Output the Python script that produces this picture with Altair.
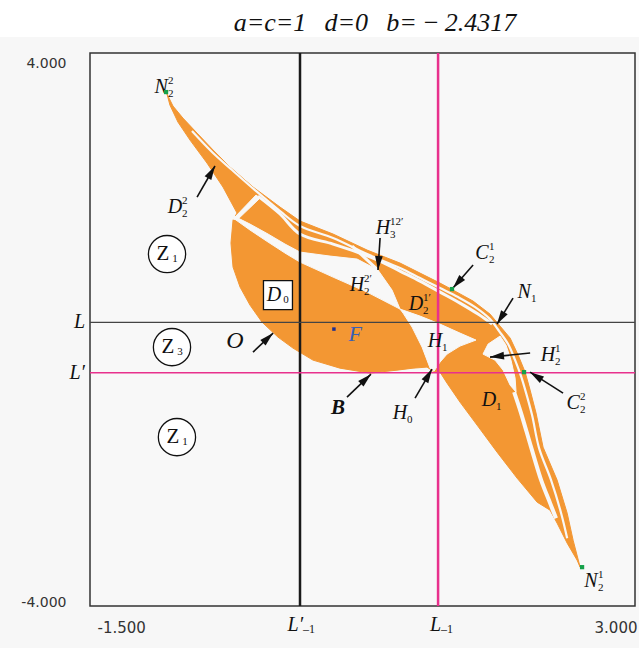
import math
import pandas as pd
import altair as alt

# ---------------- plot window ----------------
X_DOMAIN = [-1.5, 3.0]
Y_DOMAIN = [-4.0, 4.0]
X_TICKS = [-1.5, 3.0]
Y_TICKS = [-4.0, 4.0]
W, H = 545, 553
TITLE = "a=c=1\u2002\u2009d=0\u2002\u2009b=\u2009\u2212\u20092.4317"

# critical lines
L_LEVEL = 0.103      # L   (horizontal, black)
LP_LEVEL = -0.627    # L'  (horizontal, pink)
LM1_POS = 1.374      # L_-1  (vertical, pink)
LPM1_POS = 0.234     # L'_-1 (vertical, black)

ORANGE = "#f39733"
BG = "#f8f8f8"
PINK = "#e8318d"

# ---------------- basin of attraction ----------------
# outer envelope of the basin, from the N2^2 tip round to the N2^1 tip and back
basin_outline = [
    (-0.864, 3.406), (-0.815, 3.233), (-0.733, 3.059), (-0.616, 2.841), (-0.484, 2.597),
    (-0.344, 2.350), (-0.154, 2.061), (0.069, 1.771), (0.234, 1.569), (0.507, 1.381),
    (0.788, 1.149), (1.060, 0.961), (1.225, 0.816), (1.390, 0.671), (1.514, 0.555),
    (1.663, 0.411), (1.803, 0.223), (1.886, 0.049), (1.969, -0.124), (2.035, -0.370),
    (2.093, -0.617), (2.134, -0.877), (2.183, -1.209), (2.241, -1.702), (2.357, -2.179),
    (2.440, -2.657), (2.489, -3.048), (2.547, -3.438),
    (2.522, -3.337), (2.440, -3.091), (2.357, -2.802), (2.299, -2.614), (2.192, -2.498),
    (2.026, -2.150), (1.861, -1.774), (1.696, -1.383), (1.555, -1.050), (1.448, -0.776),
    (1.390, -0.617), (1.332, -0.602), (1.283, -0.544), (1.167, -0.559), (1.035, -0.588),
    (0.812, -0.631), (0.564, -0.559), (0.341, -0.443), (0.176, -0.269), (0.052, -0.110),
    (-0.080, 0.107), (-0.179, 0.353), (-0.261, 0.614), (-0.319, 0.903), (-0.336, 1.250),
    (-0.319, 1.583), (-0.286, 1.685), (-0.402, 2.061), (-0.534, 2.408), (-0.674, 2.740),
    (-0.774, 3.001), (-0.840, 3.247),
]

# holes cut into the basin (regions of the other basin)
hole_cross = [(-0.319, 1.598), (-0.286, 1.583), (-0.096, 1.902), (-0.129, 1.945)]
hole_h22 = [
    (-0.311, 1.641), (-0.179, 1.525), (-0.030, 1.381), (0.110, 1.236), (0.234, 1.120),
    (0.482, 1.062), (0.705, 1.019), (0.878, 0.860), (0.994, 0.570), (1.060, 0.295),
    (0.788, 0.541), (0.507, 0.758), (0.234, 0.975), (0.110, 1.106), (-0.030, 1.265),
    (-0.179, 1.439), (-0.294, 1.583),
]
hole_h1 = [
    (1.060, 0.295), (1.225, 0.194), (1.390, 0.078), (1.555, -0.052), (1.687, -0.153),
    (1.555, -0.240), (1.448, -0.356), (1.390, -0.472), (1.341, -0.602), (1.308, -0.559),
    (1.242, -0.255), (1.159, 0.035), (1.085, 0.237),
]
hole_h21 = [
    (1.787, -0.211), (1.886, -0.095), (1.935, -0.226), (1.976, -0.443), (2.010, -0.703),
    (2.018, -0.906), (1.969, -0.805), (1.911, -0.588), (1.844, -0.443), (1.745, -0.356),
]

# thin gaps separating the strips of the basin
gap_outer = [
    (-0.658, 2.871), (-0.484, 2.553), (-0.327, 2.307), (-0.138, 2.017), (0.069, 1.713),
    (0.234, 1.496), (0.507, 1.323), (0.788, 1.091), (1.060, 0.889), (1.225, 0.744),
    (1.390, 0.599), (1.539, 0.469), (1.680, 0.324), (1.803, 0.150), (1.878, -0.023),
    (1.952, -0.211), (2.010, -0.443), (2.059, -0.675), (2.101, -0.920), (2.150, -1.238),
    (2.208, -1.716), (2.307, -2.179), (2.390, -2.657), (2.440, -3.019),
]
gap_inner = [
    (-0.113, 1.930), (0.069, 1.671), (0.234, 1.381), (0.507, 1.236), (0.705, 1.120),
    (0.895, 0.990), (1.060, 0.845), (1.225, 0.700), (1.390, 0.541), (1.555, 0.382),
    (1.704, 0.223), (1.820, 0.078),
]
gap_h3 = [(0.664, 1.207), (0.878, 0.860)]
gap_d1 = [
    (2.002, -0.906), (2.059, -1.209), (2.142, -1.702), (2.225, -2.179), (2.299, -2.512),
    (2.348, -2.730),
]

# ---------------- annotations ----------------
# (letter, subscript, superscript, x, y)
italic_labels = [
    ("N", "2", "2", -0.913, 3.508),
    ("D", "2", "2", -0.798, 1.771),
    ("H", "3", "12\u2032", 0.919, 1.467),
    ("H", "2", "2\u2032", 0.705, 0.643),
    ("D", "2", "1\u2032", 1.192, 0.367),
    ("C", "2", "1", 1.737, 1.106),
    ("N", "1", "", 2.084, 0.541),
    ("H", "1", "", 1.349, -0.168),
    ("H", "2", "1", 2.282, -0.370),
    ("C", "2", "2", 2.489, -1.065),
    ("D", "1", "", 1.795, -1.022),
    ("H", "0", "", 1.060, -1.209),
    ("N", "2", "1", 2.637, -3.641),
]
zone_circles = [("Z", "1", -0.864, 1.091), ("Z", "3", -0.823, -0.255), ("Z", "1", -0.782, -1.557)]
d0_box = [("D", "0", 0.052, 0.498)]
o_label = [("O", -0.303, -0.168)]
b_label = [("B", 0.548, -1.137)]
f_label = [("F", 0.689, -0.067)]
fixed_point_f = [(0.514, 0.006)]
cycle_points = [(-0.872, 3.435), (1.489, 0.585), (2.084, -0.617), (2.563, -3.438)]

# arrows: (tail x, tail y, head x, head y)
arrows = [
    (-0.616, 1.916, -0.468, 2.365),   # D2^2
    (-0.154, -0.327, 0.012, -0.052),  # O
    (0.622, -0.978, 0.820, -0.646),   # B
    (1.184, -0.993, 1.324, -0.573),   # H0
    (0.895, 1.323, 0.878, 0.860),     # H3^12'
    (1.663, 0.932, 1.497, 0.599),     # C2^1
    (1.993, 0.454, 1.861, 0.078),     # N1
    (2.134, -0.341, 1.803, -0.399),   # H2^1
    (2.406, -0.920, 2.134, -0.617),   # C2^2
]

# ---------------- encodings ----------------
xscale = alt.Scale(domain=X_DOMAIN, nice=False, zero=False)
yscale = alt.Scale(domain=Y_DOMAIN, nice=False, zero=False)
tick_expr = "datum.value < 0 ? '-' + format(-datum.value, '.3f') : format(datum.value, '.3f')"
xaxis = alt.Axis(values=X_TICKS, labelExpr=tick_expr, grid=False, ticks=False, domain=False,
                 labelFlush=True, labelFlushOffset=-2.5, labelOffset=4.5, labelPadding=14,
                 labelFont="DejaVu Sans", labelFontSize=15, labelColor="#333333", title=None)
yaxis = alt.Axis(values=Y_TICKS, labelExpr=tick_expr, grid=False, ticks=False, domain=False,
                 labelFlush=True, labelOffset=3, labelPadding=24, labelFont="DejaVu Sans",
                 labelFontSize=14, labelColor="#333333", title=None)


def X(f):
    return alt.X(f, type="quantitative", scale=xscale, axis=xaxis)


def Y(f):
    return alt.Y(f, type="quantitative", scale=yscale, axis=yaxis)


def path_frame(name, pts):
    return pd.DataFrame({"px": [p[0] for p in pts], "py": [p[1] for p in pts],
                         "k": list(range(len(pts))), "part": name})


def polygon_layer(frames, color):
    df = pd.concat(frames, ignore_index=True)
    return alt.Chart(df).mark_line(
        interpolate="linear-closed", fill=color, stroke=color, strokeWidth=1, fillOpacity=1
    ).encode(x=X("px"), y=Y("py"), order="k:Q", detail="part:N")


def gap_layer(name, pts, width):
    return alt.Chart(path_frame(name, pts)).mark_line(
        interpolate="catmull-rom", stroke=BG, strokeWidth=width
    ).encode(x=X("px"), y=Y("py"), order="k:Q")


layers = []

# white strip behind the title, and the title itself
head = pd.DataFrame({"t": [TITLE]})
layers.append(
    alt.Chart(head).mark_rect(color="white").encode(
        x=alt.value(-90), x2=alt.value(W + 4), y=alt.value(-53), y2=alt.value(-16))
)
layers.append(
    alt.Chart(head).mark_text(font="Liberation Serif", fontStyle="italic", fontSize=26,
                              color="#111111", align="center", baseline="middle")
    .encode(x=alt.value(285), y=alt.value(-30), text="t:N")
)

layers.append(polygon_layer([path_frame("basin", basin_outline)], ORANGE))
layers.append(polygon_layer([path_frame("cross", hole_cross), path_frame("h22", hole_h22),
                             path_frame("h1", hole_h1), path_frame("h21", hole_h21)], BG))
layers.append(gap_layer("outer", gap_outer, 2.2))
layers.append(gap_layer("inner", gap_inner, 3))
layers.append(gap_layer("h3", gap_h3, 3))
layers.append(gap_layer("d1", gap_d1, 4))

# critical lines
layers.append(alt.Chart(pd.DataFrame({"v": [LPM1_POS]})).mark_rule(color="#1a1a1a", strokeWidth=2.5)
              .encode(x=X("v")))
layers.append(alt.Chart(pd.DataFrame({"v": [LM1_POS]})).mark_rule(color=PINK, strokeWidth=2.5)
              .encode(x=X("v")))
layers.append(alt.Chart(pd.DataFrame({"v": [L_LEVEL]})).mark_rule(color="#444444", strokeWidth=1.4)
              .encode(y=Y("v")))
layers.append(alt.Chart(pd.DataFrame({"v": [LP_LEVEL]})).mark_rule(color=PINK, strokeWidth=1.5)
              .encode(y=Y("v")))

# arrows
px_per_x = W / (X_DOMAIN[1] - X_DOMAIN[0])
px_per_y = H / (Y_DOMAIN[1] - Y_DOMAIN[0])
arr = pd.DataFrame(arrows, columns=["tx", "ty", "hx", "hy"])
arr["ang"] = [math.degrees(math.atan2((r.hx - r.tx) * px_per_x, (r.hy - r.ty) * px_per_y)) % 360
              for r in arr.itertuples()]
layers.append(alt.Chart(arr).mark_rule(color="#111111", strokeWidth=1.6)
              .encode(x=X("tx"), y=Y("ty"), x2="hx", y2="hy"))
layers.append(alt.Chart(arr).mark_point(shape="M0,0L0.55,2L-0.55,2Z", size=196, filled=True,
                                        color="#111111", opacity=1)
              .encode(x=X("hx"), y=Y("hy"), angle=alt.Angle("ang:Q", scale=None)))

# zone circles and the D0 box
zc = pd.DataFrame(zone_circles, columns=["t", "s", "lx", "ly"])
layers.append(alt.Chart(zc).mark_point(shape="circle", size=1385, filled=True, fill="white",
                                       stroke="#111111", strokeWidth=1.3, opacity=1)
              .encode(x=X("lx"), y=Y("ly")))
layers.append(alt.Chart(zc).mark_text(font="Liberation Serif", fontSize=21, dx=-4, color="#111111")
              .encode(x=X("lx"), y=Y("ly"), text="t:N"))
layers.append(alt.Chart(zc).mark_text(font="Liberation Serif", fontSize=11, dx=8, dy=5,
                                      align="center", color="#111111")
              .encode(x=X("lx"), y=Y("ly"), text="s:N"))

db = pd.DataFrame(d0_box, columns=["t", "s", "lx", "ly"])
layers.append(alt.Chart(db).mark_point(shape="square", size=841, filled=True, fill="white",
                                       stroke="#111111", strokeWidth=1.3, opacity=1)
              .encode(x=X("lx"), y=Y("ly")))
layers.append(alt.Chart(db).mark_text(font="Liberation Serif", fontStyle="italic", fontSize=20,
                                      dx=-4, color="#111111")
              .encode(x=X("lx"), y=Y("ly"), text="t:N"))
layers.append(alt.Chart(db).mark_text(font="Liberation Serif", fontSize=11, dx=8, dy=5,
                                      color="#111111")
              .encode(x=X("lx"), y=Y("ly"), text="s:N"))

# italic labels with sub/superscripts
il = pd.DataFrame(italic_labels, columns=["t", "s", "u", "lx", "ly"])
layers.append(alt.Chart(il).mark_text(font="Liberation Serif", fontStyle="italic", fontSize=20,
                                      color="#111111")
              .encode(x=X("lx"), y=Y("ly"), text="t:N"))
layers.append(alt.Chart(il).mark_text(font="Liberation Serif", fontSize=11, align="left",
                                      dx=7, dy=7, color="#111111")
              .encode(x=X("lx"), y=Y("ly"), text="s:N"))
layers.append(alt.Chart(il).mark_text(font="Liberation Serif", fontSize=11, align="left",
                                      dx=7, dy=-6, color="#111111")
              .encode(x=X("lx"), y=Y("ly"), text="u:N"))

ol = pd.DataFrame(o_label, columns=["t", "lx", "ly"])
layers.append(alt.Chart(ol).mark_text(font="Liberation Serif", fontStyle="italic", fontSize=24,
                                      color="#111111")
              .encode(x=X("lx"), y=Y("ly"), text="t:N"))
bl = pd.DataFrame(b_label, columns=["t", "lx", "ly"])
layers.append(alt.Chart(bl).mark_text(font="Liberation Serif", fontStyle="italic", fontWeight="bold",
                                      fontSize=21, color="#111111")
              .encode(x=X("lx"), y=Y("ly"), text="t:N"))
fl = pd.DataFrame(f_label, columns=["t", "lx", "ly"])
layers.append(alt.Chart(fl).mark_text(font="Liberation Serif", fontStyle="italic", fontSize=22,
                                      color="#3a5fb5")
              .encode(x=X("lx"), y=Y("ly"), text="t:N"))

fp = pd.DataFrame(fixed_point_f, columns=["lx", "ly"])
layers.append(alt.Chart(fp).mark_square(size=12, color="#1f2f8f", opacity=1)
              .encode(x=X("lx"), y=Y("ly")))
cp = pd.DataFrame(cycle_points, columns=["lx", "ly"])
layers.append(alt.Chart(cp).mark_square(size=18, color="#15a04a", opacity=1)
              .encode(x=X("lx"), y=Y("ly")))

# names of the critical lines, outside the frame
side = pd.DataFrame({"t": ["L", "L\u2032"], "lx": [X_DOMAIN[0], X_DOMAIN[0]], "ly": [L_LEVEL, LP_LEVEL]})
layers.append(alt.Chart(side).mark_text(font="Liberation Serif", fontStyle="italic", fontSize=20,
                                        align="right", dx=-5, color="#111111")
              .encode(x=X("lx"), y=Y("ly"), text="t:N"))
bottom = pd.DataFrame({"t": ["L\u2032", "L"], "s": ["\u20131", "\u20131"],
                       "lx": [LPM1_POS, LM1_POS], "ly": [Y_DOMAIN[0], Y_DOMAIN[0]]})
layers.append(alt.Chart(bottom).mark_text(font="Liberation Serif", fontStyle="italic", fontSize=20,
                                          align="right", dx=3, dy=19, color="#111111")
              .encode(x=X("lx"), y=Y("ly"), text="t:N"))
layers.append(alt.Chart(bottom).mark_text(font="Liberation Serif", fontSize=12,
                                          align="left", dx=3, dy=23, color="#111111")
              .encode(x=X("lx"), y=Y("ly"), text="s:N"))

chart = alt.layer(*layers).properties(
    width=W, height=H,
    padding={"left": 90, "top": 53, "right": 4, "bottom": 42},
    autosize=alt.AutoSizeParams(type="none"),
    background="#f7f7f7",
).configure_view(stroke="#333333", strokeWidth=1.5, fill=BG)

chart.save("out.html", embed_options={"renderer": "svg", "actions": False})
